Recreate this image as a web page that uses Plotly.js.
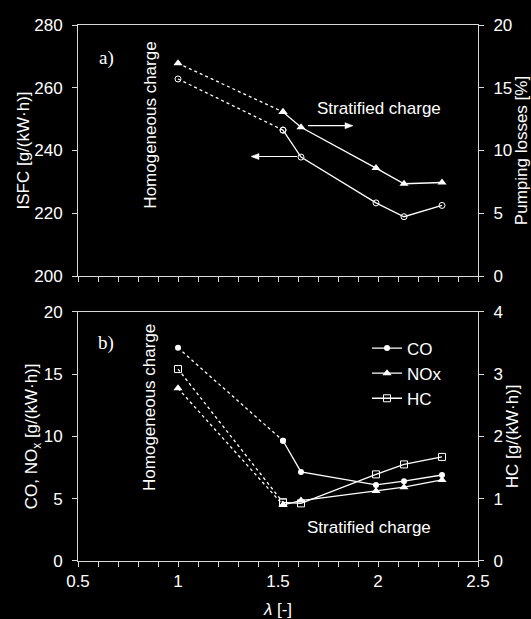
<!DOCTYPE html>
<html>
<head>
<meta charset="utf-8">
<script src="https://cdn.plot.ly/plotly-3.0.1.min.js"></script>
<style>html,body{margin:0;padding:0;background:#000;}#chart{width:531px;height:619px;}</style>
</head>
<body>
<div id="chart"></div>
<script>
// lambda values
const lambda = [1.0, 1.525, 1.615, 1.99, 2.13, 2.32];
// a) ISFC [g/(kW·h)] and pumping losses [%]
const isfc = [262.8, 246.5, 237.9, 223.3, 218.9, 222.5];
const pumping = [16.95, 13.07, 11.85, 8.6, 7.35, 7.45];
// b) emissions
const co = [17.1, 9.65, 7.15, 6.1, 6.4, 6.9];
const nox = [13.85, 4.5, 4.85, 5.62, 5.92, 6.5];
const hc = [3.08, 0.94, 0.925, 1.39, 1.55, 1.67];

const seriesNames = ['CO', 'NOx', 'HC'];
const xTickVals = [0.5, 1, 1.5, 2, 2.5];
const xTickText = ['0.5', '1', '1.5', '2', '2.5'];

const WHITE = '#ffffff';
const AXC = '#d9d9d9';
const FONT = 'Liberation Sans, Arial, sans-serif';

function pair(x, y, xa, ya, marker, name, showLegend) {
  return [
    {x: x.slice(0, 2), y: y.slice(0, 2), xaxis: xa, yaxis: ya, mode: 'lines+markers',
     line: {color: WHITE, width: 1.3, dash: 'dot'}, marker: marker, showlegend: false, hoverinfo: 'skip'},
    {x: x.slice(1), y: y.slice(1), xaxis: xa, yaxis: ya, mode: 'lines+markers', name: name,
     line: {color: WHITE, width: 1.3}, marker: marker, showlegend: showLegend}
  ];
}

const mCircleOpen = {symbol: 'circle-open', size: 6, color: WHITE, line: {color: WHITE, width: 1}};
const mTri = {symbol: 'triangle-up', size: 8, color: WHITE};
const mCircle = {symbol: 'circle', size: 6, color: WHITE};
const mSquareOpen = {symbol: 'square-open', size: 7, color: WHITE, line: {color: WHITE, width: 1}};

const data = [].concat(
  pair(lambda, isfc, 'x2', 'y3', mCircleOpen, 'ISFC', false),
  pair(lambda, pumping, 'x2', 'y4', mTri, 'Pumping losses', false),
  pair(lambda, co, 'x', 'y', mCircle, seriesNames[0], true),
  pair(lambda, nox, 'x', 'y', mTri, seriesNames[1], true),
  pair(lambda, hc, 'x', 'y2', mSquareOpen, seriesNames[2], true)
);

const tickFont = {family: FONT, size: 17, color: WHITE};
const titleFont = {family: FONT, size: 17, color: WHITE};

const xCommon = {
  range: [0.5, 2.5], tickvals: xTickVals, ticktext: xTickText,
  ticks: 'outside', ticklen: 5, tickcolor: AXC, tickwidth: 1,
  minor: {dtick: 0.1, ticks: 'outside', ticklen: 5, tickcolor: AXC, tickwidth: 1},
  showline: true, linecolor: AXC, linewidth: 1, mirror: true,
  showgrid: false, zeroline: false, tickfont: tickFont
};
const yCommon = {
  ticks: 'outside', ticklen: 5, tickcolor: AXC, tickwidth: 1, ticklabelstandoff: 6,
  showline: true, linecolor: AXC, linewidth: 1,
  showgrid: false, zeroline: false, tickfont: tickFont
};

const ann = (text, x, y, extra) => Object.assign({text: text, xref: 'paper', yref: 'paper', x: x, y: y,
  xanchor: 'center', yanchor: 'middle', showarrow: false, font: {family: FONT, size: 17, color: WHITE}}, extra || {});
const serif = {family: 'Liberation Serif, Times New Roman, serif', size: 19, color: WHITE};

// pixel -> paper helpers for the decorative arrows (plot area 78..478 x 25..561)
const px = v => (v - 78) / 400;
const py = v => (561 - v) / 536;
function arrow(x0, x1, y) {
  const dir = x1 > x0 ? 1 : -1;
  const headLen = 8, headHalf = 3;
  return [
    {type: 'line', xref: 'paper', yref: 'paper', x0: px(x0), x1: px(x1 - dir * headLen), y0: py(y), y1: py(y),
     line: {color: WHITE, width: 1.2}},
    {type: 'path', xref: 'paper', yref: 'paper', fillcolor: WHITE, line: {color: WHITE, width: 0.5},
     path: 'M ' + px(x1) + ' ' + py(y) + ' L ' + px(x1 - dir * headLen) + ' ' + py(y - headHalf) +
           ' L ' + px(x1 - dir * headLen) + ' ' + py(y + headHalf) + ' Z'}
  ];
}

const layout = {
  width: 531, height: 619,
  paper_bgcolor: '#000', plot_bgcolor: '#000',
  margin: {l: 78, r: 53, t: 25, b: 58},
  showlegend: true,
  legend: {x: 0.7225, y: 0.43, xanchor: 'left', yanchor: 'top', bgcolor: 'rgba(0,0,0,0)',
           font: {family: FONT, size: 17, color: WHITE}, itemwidth: 30, tracegroupgap: 0},
  xaxis: Object.assign({}, xCommon, {domain: [0, 1], anchor: 'y',
         title: {text: '<i>λ</i> [-]', font: titleFont, standoff: 12}}),
  xaxis2: Object.assign({}, xCommon, {domain: [0, 1], anchor: 'y3', showticklabels: false}),
  yaxis: Object.assign({}, yCommon, {domain: [0, 0.4651], range: [0, 20], dtick: 5, side: 'left',
         title: {text: 'CO, NO<sub>x</sub> [g/(kW·h)]', font: titleFont, standoff: 0}}),
  yaxis2: Object.assign({}, yCommon, {overlaying: 'y', range: [0, 4], dtick: 1, side: 'right', anchor: 'x',
         title: {text: 'HC [g/(kW·h)]', font: titleFont, standoff: 3}}),
  yaxis3: Object.assign({}, yCommon, {domain: [0.5317, 1], range: [200, 280], dtick: 20, side: 'left', anchor: 'x2',
         title: {text: 'ISFC [g/(kW·h)]', font: titleFont, standoff: 0}}),
  yaxis4: Object.assign({}, yCommon, {overlaying: 'y3', range: [0, 20], dtick: 5, side: 'right', anchor: 'x2',
         title: {text: 'Pumping losses [%]', font: titleFont, standoff: 3}}),
  annotations: [
    ann('a)', 0.071, 0.938, {font: serif}),
    ann('b)', 0.071, 0.407, {font: serif}),
    ann('Homogeneous charge', 0.181, 0.813, {textangle: -90}),
    ann('Homogeneous charge', 0.177, 0.287, {textangle: -90}),
    ann('Stratified charge', 0.753, 0.845),
    ann('Stratified charge', 0.727, 0.062)
  ],
  shapes: [].concat(arrow(308, 353, 125.7), arrow(297, 251, 156.5))
};

Plotly.newPlot('chart', data, layout, {displayModeBar: false, staticPlot: true});
</script>
</body>
</html>
